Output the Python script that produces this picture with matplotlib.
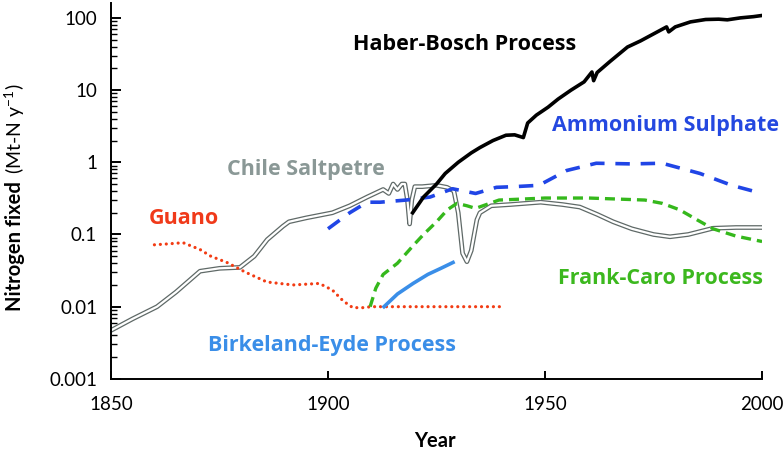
import matplotlib
matplotlib.use("Agg")
import matplotlib.pyplot as plt
from matplotlib.ticker import LogLocator, NullFormatter, FixedLocator

plt.rcParams['font.family'] = ['Lato', 'DejaVu Sans']

# --- data (year, Mt-N per year) ---
chile_year = [1850, 1855, 1860.6, 1865, 1870.5, 1875, 1879.7, 1883, 1886, 1889.6, 1891,
              1895, 1901, 1905, 1909, 1912.7, 1914, 1915, 1916, 1917, 1917.7, 1918.3,
              1918.8, 1919.3, 1920, 1921.7, 1925, 1927.4, 1929, 1930, 1931, 1932, 1933,
              1934.3, 1935, 1937.6, 1942, 1949, 1954, 1958, 1962, 1965.7, 1970, 1975,
              1978.8, 1983, 1988.7, 1994, 2000]
chile_val = [0.0047, 0.0068, 0.01, 0.016, 0.031, 0.034, 0.035, 0.05, 0.085, 0.13, 0.15,
             0.17, 0.2, 0.25, 0.33, 0.42, 0.37, 0.5, 0.42, 0.5, 0.5, 0.3,
             0.14, 0.3, 0.46, 0.46, 0.48, 0.45, 0.4, 0.2, 0.055, 0.042, 0.06,
             0.16, 0.2, 0.25, 0.26, 0.28, 0.26, 0.24, 0.19, 0.15, 0.12, 0.1,
             0.093, 0.1, 0.122, 0.125, 0.125]

haber_year = [1919.5, 1922, 1925, 1927, 1930, 1933, 1935, 1938, 1941, 1943, 1945, 1946,
              1948, 1950.7, 1953, 1956, 1959, 1960.8, 1961.2, 1962, 1965, 1969, 1972,
              1975, 1978, 1978.5, 1980, 1983.5, 1987, 1990, 1992, 1995, 1998, 2000]
haber_val = [0.2, 0.33, 0.5, 0.7, 1.0, 1.35, 1.6, 2.0, 2.37, 2.4, 2.2, 3.5,
             4.5, 5.8, 7.5, 10, 13, 17.8, 13.5, 17.5, 25, 39.5, 48,
             60, 75, 64, 75, 88, 95, 96, 94, 100, 104, 108]

amm_year = [1900, 1905, 1909, 1912, 1918, 1923.5, 1928.7, 1934, 1938.8, 1943, 1948.6,
            1955, 1961.8, 1970, 1977, 1985.7, 1993, 2000]
amm_val = [0.12, 0.2, 0.28, 0.28, 0.3, 0.33, 0.43, 0.37, 0.45, 0.46, 0.48,
           0.77, 0.97, 0.95, 0.97, 0.7, 0.48, 0.37]

frank_year = [1909.7, 1911, 1912.7, 1916, 1919.6, 1922, 1925, 1927.5, 1929.7, 1932, 1934,
              1936.5, 1939.4, 1945, 1950, 1960, 1973, 1977, 1981, 1985, 1988.7, 1994, 2000]
frank_val = [0.01, 0.018, 0.028, 0.04, 0.07, 0.1, 0.15, 0.22, 0.27, 0.25, 0.23,
             0.26, 0.3, 0.31, 0.32, 0.32, 0.3, 0.27, 0.22, 0.16, 0.12, 0.095, 0.08]

birk_year = [1912.9, 1916, 1919.6, 1923, 1926, 1928.8]
birk_val = [0.01, 0.015, 0.021, 0.028, 0.034, 0.041]

guano_year = [1860, 1863, 1866.6, 1870.5, 1873, 1876.7, 1881, 1885.9, 1891.9, 1898, 1901,
              1903.5, 1905.7, 1908, 1910, 1920, 1930, 1940]
guano_val = [0.072, 0.074, 0.077, 0.062, 0.05, 0.041, 0.03, 0.022, 0.02, 0.021, 0.017,
             0.012, 0.0097, 0.0097, 0.01, 0.01, 0.01, 0.01]

x_ticks = [1850, 1900, 1950, 2000]
y_ticks = [0.001, 0.01, 0.1, 1, 10, 100]
y_tick_labels = ['0.001', '0.01', '0.1', '1', '10', '100']

fig = plt.figure(figsize=(7.84, 4.5), dpi=100)
ax = fig.add_axes([0.1416, 0.158, 0.972 - 0.1416, 0.993 - 0.158])

# Chile saltpetre as a hollow double line
ax.plot(chile_year, chile_val, color='#5f6967', lw=3.4, solid_joinstyle='round', zorder=2)
ax.plot(chile_year, chile_val, color='white', lw=1.6, solid_joinstyle='round', zorder=2.1)

ax.plot(guano_year, guano_val, color='#f23c14', lw=2.3, ls=(0, (0.01, 1.85)),
        dash_capstyle='round', zorder=3)
ax.plot(amm_year, amm_val, color='#2045e6', lw=2.6, ls=(0, (4, 3)), zorder=3)
ax.plot(frank_year, frank_val, color='#35b81c', lw=2.4, ls=(0, (3, 1.8)), zorder=3)
ax.plot(birk_year, birk_val, color='#3a8ee8', lw=2.6, zorder=3)
ax.plot(haber_year, haber_val, color='black', lw=2.6, zorder=4)

ax.set_yscale('log')
ax.set_xlim(1850, 2000)
ax.set_ylim(0.001, 160)

ax.spines['top'].set_visible(False)
ax.spines['right'].set_visible(False)
ax.spines['left'].set_linewidth(1.4)
ax.spines['bottom'].set_linewidth(1.4)

ax.xaxis.set_major_locator(FixedLocator(x_ticks))
ax.yaxis.set_major_locator(FixedLocator(y_ticks))
ax.set_yticklabels(y_tick_labels)
ax.yaxis.set_minor_locator(LogLocator(base=10, subs=range(2, 10)))
ax.yaxis.set_minor_formatter(NullFormatter())
ax.tick_params(axis='x', direction='in', length=6, width=1.4, labelsize=13.5, pad=12)
ax.tick_params(axis='y', which='major', direction='in', length=7, width=1.4,
               labelsize=13.5, pad=10)
ax.tick_params(axis='y', which='minor', direction='in', length=4, width=1.0)

fig.text(435 / 784, 1 - 441 / 450, 'Year', ha='center', va='center',
         fontsize=14.5, fontweight='bold')
fig.text(15 / 784, 1 - 246 / 450, 'Nitrogen fixed', rotation=90, ha='center',
         va='center', fontsize=14.5, fontweight='bold')
fig.text(15 / 784, 1 - 129 / 450, r'(Mt-N y$^{\mathregular{-1}}$)', rotation=90,
         ha='center', va='center', fontsize=14)

def label(px, py, s, c):
    fig.text(px / 784, 1 - py / 450, s, color=c, ha='center', va='center',
             fontsize=15.5, fontweight='bold', family=['Open Sans', 'DejaVu Sans'])

label(465, 45, 'Haber-Bosch Process', 'black')
label(665, 125, 'Ammonium Sulphate', '#2448e0')
label(306, 170, 'Chile Saltpetre', '#8a9896')
label(184, 218, 'Guano', '#f03a1a')
label(332, 345, 'Birkeland-Eyde Process', '#3a8ee8')
label(661, 278, 'Frank-Caro Process', '#3cb81e')

fig.savefig('out.png', dpi=100)
